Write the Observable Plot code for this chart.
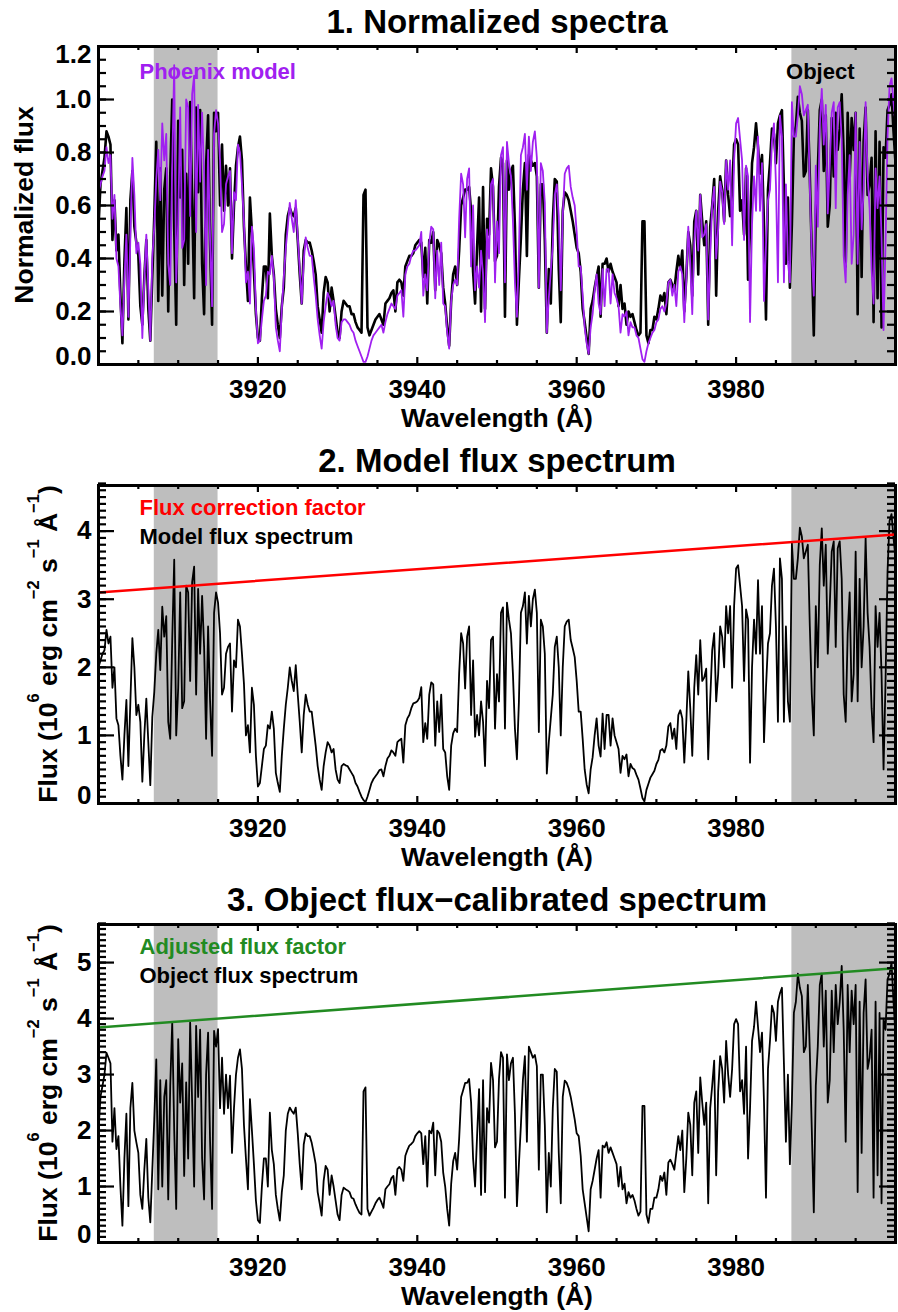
<!DOCTYPE html>
<html>
<head>
<meta charset="utf-8">
<script src="https://cdn.jsdelivr.net/npm/d3@7"></script>
<script src="https://cdn.jsdelivr.net/npm/@observablehq/plot@0.6"></script>
<style>
  html, body { margin: 0; padding: 0; background: #fff; }
  #chart { width: 898px; }
  #chart svg { display: block; }
</style>
</head>
<body>
<div id="chart"></div>
<script>
// ---------------- DATA ----------------
// wavelength grid: 3900 .. 4000 Å, one sample every 0.25 Å (401 samples)
const waveStart = 3900;
const waveStep = 0.25;

// Panel 2: model flux spectrum (10^6 erg cm^-2 s^-1 Å^-1)
const modelFlux = [
2.0,2.1,2.2,2.25, 2.55,2.35,2.45,1.7, 2.0,1.25,1.15,0.7, 0.35,1.0,1.52,0.55, 1.5,2.43,2.0,1.3,
1.45,1.2,0.32,1.0, 1.54,0.9,0.27,1.27, 1.64,2.2,2.55,1.96, 2.89,2.45,2.75,1.2, 0.95,2.4,3.58,1.0,
1.7,3.1,1.4,1.5, 3.2,3.1,1.8,3.25, 3.48,1.6,3.15,2.2, 3.05,2.3,0.95,2.6, 1.5,0.7,2.8,3.1,
2.95,2.5,1.6,1.7, 2.2,2.3,2.35,1.35, 2.1,2.0,2.7,2.6, 2.2,1.76,1.0,1.15, 0.75,1.7,1.45,0.7,
0.25,0.3,0.55,0.8, 0.85,1.15,1.1,1.35, 1.1,0.45,0.3,0.17, 0.7,1.1,1.45,1.7, 2.0,1.8,1.65,2.03,
1.6,1.2,0.75,1.3, 1.6,1.45,1.35,1.35, 1.1,0.85,0.55,0.35, 0.2,0.55,0.75,0.9, 0.85,0.75,0.8,0.5,
0.35,0.3,0.55,0.58, 0.56,0.55,0.5,0.45, 0.4,0.3,0.25,0.17, 0.1,0.05,0.02,0.1, 0.2,0.3,0.36,0.4,
0.44,0.49,0.5,0.4, 0.55,0.66,0.7,0.78, 0.75,0.7,0.9,0.93, 0.95,0.6,1.15,1.25, 1.3,1.4,1.47,1.48,
1.5,1.55,1.71,0.9, 1.18,0.95,1.6,1.78, 1.75,0.85,1.5,1.05, 1.6,0.8,0.75,0.4, 0.2,0.85,1.03,1.1,
1.05,1.91,2.5,2.35, 1.69,2.45,2.6,1.3, 2.1,0.98,1.3,1.0, 1.5,1.2,0.55,1.8, 1.4,2.4,2.45,1.1,
1.9,1.5,2.8,2.88, 1.1,2.95,2.7,2.5, 1.9,1.1,0.65,1.5, 2.8,2.9,3.1,2.35, 3.05,2.6,3.0,3.14,
2.8,1.05,2.7,2.6, 2.2,0.44,0.9,1.25, 1.6,2.3,2.45,2.0, 1.0,2.0,2.6,2.67, 2.7,2.4,2.28,2.15,
1.8,1.35,1.35,0.95, 0.5,0.28,0.15,0.5, 0.68,1.0,1.25,0.85, 0.69,1.32,0.8,1.3, 1.3,0.85,1.25,1.0,
0.9,0.8,0.45,0.7, 0.65,0.72,0.4,0.58, 0.52,0.5,0.42,0.35, 0.22,0.08,0.03,0.2, 0.29,0.38,0.43,0.48,
0.58,0.64,0.78,0.8, 0.75,0.85,1.13,1.18, 0.95,1.1,0.8,1.3, 1.37,1.25,0.6,1.2, 1.94,1.4,0.7,1.7,
2.18,1.6,2.4,1.8, 1.85,1.98,0.65,1.52, 2.25,2.5,1.5,1.9, 2.6,2.45,2.0,2.9, 2.5,2.9,1.7,2.9,
3.45,3.5,3.2,2.9, 1.8,2.85,2.7,0.6, 2.0,2.7,2.2,3.28, 2.2,2.9,0.9,1.7, 2.35,2.5,3.2,3.45,
2.6,1.2,3.6,3.3, 1.2,2.6,1.5,1.2, 3.82,3.3,3.3,3.6, 4.05,3.92,3.6,3.7, 3.8,2.6,1.6,1.0,
2.9,2.0,3.5,4.04, 3.2,3.8,2.2,2.9, 3.7,3.85,2.3,3.75, 3.85,3.3,1.6,1.2, 2.5,3.1,1.5,1.9,
3.7,1.5,3.3,2.0, 2.6,3.9,2.8,2.3, 1.4,0.9,2.9,2.3, 2.8,1.9,0.5,1.8, 3.4,4.15,4.25,3.9,
3.6
];

// Panel 3: object flux-calibrated spectrum (10^6 erg cm^-2 s^-1 Å^-1)
const objectFlux = [
2.0,2.6,2.8,3.0, 3.39,3.3,3.2,1.8, 2.4,1.67,1.9,1.0, 0.3,1.5,2.3,0.65, 2.4,2.85,2.0,1.79,
1.6,0.85,0.6,1.3, 1.85,0.8,0.36,1.3, 2.2,3.27,0.95,2.9, 1.0,2.6,2.9,0.77, 2.8,3.93,2.0,0.6,
3.63,2.5,3.2,1.19, 2.86,1.5,3.93,2.5, 1.0,3.87,2.6,3.8, 1.5,0.77,3.0,3.75, 1.8,0.6,3.78,3.5,
3.81,2.4,3.3,2.3, 3.0,2.4,2.98,1.6, 2.4,3.0,3.3,3.45, 3.1,2.1,1.5,0.95, 2.56,2.0,1.4,0.75,
0.4,0.35,1.0,1.5, 1.5,1.0,2.32,1.65, 1.4,0.85,0.6,0.39, 0.9,1.2,2.0,2.3, 2.41,2.35,2.3,2.41,
1.95,1.4,0.95,1.75, 1.95,1.9,1.9,1.78, 1.6,1.4,0.9,0.7, 0.48,1.1,1.37,1.3, 0.85,1.2,1.0,0.75,
0.5,0.4,0.85,0.98, 0.95,0.93,0.9,0.8, 0.78,0.68,0.6,0.53, 0.5,2.7,2.77,0.6, 0.48,0.55,0.62,0.7,
0.76,0.8,0.72,0.62, 0.95,1.0,1.04,1.15, 1.19,0.85,1.31,1.35, 1.3,1.1,1.55,1.65, 1.73,1.76,1.8,1.9,
1.95,1.99,1.95,1.4, 1.9,1.0,2.0,1.95, 2.14,1.2,2.0,1.95, 1.8,1.25,1.0,0.6, 0.3,1.05,1.45,1.6,
1.3,1.85,2.6,2.72, 2.85,2.85,2.92,2.5, 1.5,1.0,1.9,2.74, 0.85,2.9,0.9,2.4, 2.14,3.21,2.9,1.7,
1.8,2.92,3.4,3.3, 0.8,3.36,2.9,3.2, 3.3,2.3,0.65,1.4, 2.1,2.9,3.33,1.8, 3.5,3.4,3.3,3.35,
3.15,1.3,3.0,3.0, 2.1,0.54,1.6,1.0, 2.4,3.1,3.05,1.6, 0.7,2.6,2.89,2.85, 2.75,2.6,2.4,2.2,
1.95,1.9,1.55,0.95, 0.7,0.45,0.2,0.95, 1.1,1.3,1.5,1.65, 0.8,1.73,1.7,1.79, 1.6,1.7,1.6,1.5,
1.4,1.0,1.35,0.95, 1.05,0.7,0.9,0.8, 0.85,0.75,0.6,0.48, 0.55,2.44,2.44,0.5, 0.35,0.6,0.6,0.8,
0.8,0.95,1.19,1.1, 1.25,0.85,1.43,1.48, 1.4,1.3,1.6,1.9, 1.65,2.0,0.9,1.5, 2.32,2.1,1.2,2.5,
2.7,1.6,2.95,2.5, 2.1,2.5,0.7,2.4, 2.8,3.25,1.2,2.7, 3.33,3.1,2.5,3.6, 3.0,2.6,3.1,3.9,
3.99,3.9,2.7,2.9, 2.3,3.5,1.5,2.4, 3.6,3.85,4.3,3.85, 3.4,3.75,2.5,0.8, 3.1,3.6,4.23,4.1,
3.6,4.3,4.45,4.55, 3.2,1.8,3.0,1.4, 2.5,4.1,4.3,4.8, 4.55,4.4,3.4,3.5, 4.6,3.4,2.0,0.54,
2.8,3.5,4.6,4.8, 3.5,4.5,2.5,2.9, 4.5,3.4,4.6,3.9, 4.3,4.94,3.8,1.8, 4.6,3.4,4.5,3.9,
4.6,0.9,4.3,1.6, 4.1,4.7,3.1,3.3, 3.8,0.8,4.3,1.2, 4.1,0.7,4.0,3.8, 4.7,4.8,5.0,4.3,
3.7
];

// Panel 1: Phoenix model, normalized flux
const normModel = [
0.65,0.68,0.71,0.73, 0.82,0.76,0.79,0.55, 0.64,0.40,0.37,0.22, 0.11,0.32,0.49,0.18, 0.48,0.78,0.64,0.42,
0.46,0.38,0.10,0.32, 0.49,0.29,0.09,0.40, 0.52,0.70,0.81,0.62, 0.91,0.77,0.87,0.38, 0.30,0.75,1.13,0.31,
0.53,0.97,0.44,0.47, 1.00,0.97,0.56,1.02, 1.09,0.50,0.98,0.69, 0.95,0.72,0.30,0.81, 0.47,0.22,0.87,0.96,
0.91,0.77,0.50,0.53, 0.68,0.71,0.73,0.42, 0.65,0.62,0.83,0.80, 0.68,0.54,0.31,0.35, 0.23,0.52,0.44,0.21,
0.08,0.09,0.17,0.24, 0.26,0.35,0.34,0.41, 0.33,0.14,0.09,0.05, 0.21,0.33,0.44,0.52, 0.61,0.55,0.50,0.62,
0.48,0.36,0.23,0.39, 0.48,0.44,0.41,0.41, 0.33,0.26,0.17,0.11, 0.06,0.16,0.22,0.27, 0.25,0.22,0.24,0.15,
0.10,0.09,0.16,0.17, 0.17,0.16,0.15,0.13, 0.12,0.09,0.07,0.05, 0.03,0.01,0.01,0.03, 0.06,0.09,0.11,0.12,
0.13,0.14,0.15,0.12, 0.16,0.19,0.21,0.23, 0.22,0.21,0.26,0.27, 0.28,0.18,0.34,0.37, 0.38,0.41,0.43,0.43,
0.44,0.45,0.50,0.26, 0.34,0.28,0.46,0.52, 0.51,0.25,0.43,0.30, 0.46,0.23,0.22,0.12, 0.06,0.24,0.30,0.32,
0.30,0.55,0.72,0.68, 0.48,0.70,0.74,0.37, 0.60,0.28,0.37,0.29, 0.43,0.34,0.16,0.51, 0.40,0.68,0.70,0.31,
0.54,0.42,0.79,0.82, 0.31,0.84,0.76,0.71, 0.54,0.31,0.18,0.42, 0.79,0.82,0.87,0.66, 0.86,0.73,0.84,0.88,
0.78,0.29,0.76,0.73, 0.61,0.12,0.25,0.35, 0.45,0.64,0.68,0.56, 0.28,0.56,0.72,0.74, 0.75,0.67,0.63,0.60,
0.50,0.37,0.37,0.26, 0.14,0.08,0.04,0.14, 0.19,0.28,0.34,0.23, 0.19,0.36,0.22,0.36, 0.36,0.23,0.34,0.27,
0.25,0.22,0.12,0.19, 0.18,0.20,0.11,0.16, 0.14,0.14,0.11,0.10, 0.06,0.02,0.01,0.05, 0.08,0.10,0.12,0.13,
0.16,0.17,0.21,0.22, 0.20,0.23,0.31,0.32, 0.26,0.30,0.22,0.35, 0.37,0.34,0.16,0.32, 0.52,0.38,0.19,0.46,
0.58,0.43,0.64,0.48, 0.49,0.53,0.17,0.41, 0.60,0.67,0.40,0.51, 0.69,0.65,0.53,0.77, 0.66,0.77,0.45,0.77,
0.91,0.93,0.85,0.77, 0.47,0.75,0.71,0.16, 0.53,0.71,0.58,0.86, 0.58,0.76,0.24,0.45, 0.62,0.66,0.84,0.91,
0.68,0.31,0.94,0.86, 0.31,0.68,0.39,0.31, 0.99,0.86,0.86,0.94, 1.05,1.02,0.94,0.96, 0.98,0.67,0.41,0.26,
0.75,0.52,0.90,1.04, 0.83,0.98,0.57,0.75, 0.95,0.99,0.59,0.97, 0.99,0.85,0.41,0.31, 0.64,0.79,0.38,0.49,
0.95,0.38,0.84,0.51, 0.66,0.99,0.71,0.59, 0.36,0.23,0.74,0.59, 0.71,0.48,0.13,0.46, 0.86,1.05,1.08,0.99,
0.91
];

// Panel 1: object, normalized flux
const normObject = [
0.52,0.68,0.73,0.78, 0.88,0.86,0.83,0.47, 0.62,0.43,0.49,0.26, 0.08,0.39,0.59,0.17, 0.62,0.73,0.52,0.46,
0.41,0.22,0.15,0.33, 0.47,0.21,0.09,0.33, 0.56,0.84,0.24,0.74, 0.26,0.66,0.74,0.20, 0.71,1.00,0.51,0.15,
0.92,0.63,0.81,0.30, 0.72,0.38,0.99,0.63, 0.25,0.97,0.65,0.96, 0.38,0.19,0.75,0.94, 0.45,0.15,0.95,0.88,
0.95,0.60,0.83,0.58, 0.75,0.60,0.74,0.40, 0.60,0.75,0.82,0.86, 0.77,0.52,0.37,0.24, 0.63,0.50,0.35,0.19,
0.10,0.09,0.25,0.37, 0.37,0.25,0.57,0.41, 0.34,0.21,0.15,0.10, 0.22,0.29,0.49,0.56, 0.59,0.57,0.56,0.59,
0.47,0.34,0.23,0.43, 0.47,0.46,0.46,0.43, 0.39,0.34,0.22,0.17, 0.12,0.27,0.33,0.31, 0.20,0.29,0.24,0.18,
0.12,0.10,0.20,0.24, 0.23,0.22,0.22,0.19, 0.19,0.16,0.14,0.13, 0.12,0.64,0.66,0.14, 0.11,0.13,0.15,0.17,
0.18,0.19,0.17,0.15, 0.23,0.24,0.25,0.27, 0.28,0.20,0.31,0.32, 0.31,0.26,0.37,0.39, 0.41,0.41,0.42,0.45,
0.46,0.47,0.46,0.33, 0.44,0.23,0.47,0.46, 0.50,0.28,0.47,0.45, 0.42,0.29,0.23,0.14, 0.07,0.24,0.34,0.37,
0.30,0.43,0.60,0.63, 0.66,0.66,0.67,0.58, 0.35,0.23,0.44,0.63, 0.20,0.67,0.21,0.55, 0.49,0.74,0.67,0.39,
0.41,0.67,0.78,0.76, 0.18,0.77,0.66,0.73, 0.75,0.52,0.15,0.32, 0.48,0.66,0.76,0.41, 0.79,0.77,0.75,0.76,
0.71,0.29,0.68,0.68, 0.47,0.12,0.36,0.23, 0.54,0.70,0.69,0.36, 0.16,0.58,0.65,0.64, 0.62,0.58,0.54,0.49,
0.44,0.42,0.35,0.21, 0.16,0.10,0.04,0.21, 0.24,0.29,0.33,0.37, 0.18,0.38,0.38,0.40, 0.35,0.38,0.35,0.33,
0.31,0.22,0.30,0.21, 0.23,0.15,0.20,0.18, 0.19,0.16,0.13,0.11, 0.12,0.54,0.54,0.11, 0.08,0.13,0.13,0.18,
0.17,0.21,0.26,0.24, 0.27,0.19,0.31,0.32, 0.30,0.28,0.35,0.41, 0.36,0.43,0.20,0.33, 0.50,0.45,0.26,0.54,
0.58,0.34,0.64,0.54, 0.45,0.54,0.15,0.52, 0.60,0.70,0.26,0.58, 0.71,0.66,0.54,0.77, 0.64,0.56,0.66,0.83,
0.85,0.83,0.58,0.62, 0.49,0.74,0.32,0.51, 0.76,0.82,0.91,0.82, 0.72,0.79,0.53,0.17, 0.66,0.76,0.89,0.87,
0.76,0.91,0.94,0.96, 0.67,0.38,0.63,0.29, 0.53,0.86,0.90,1.01, 0.95,0.92,0.71,0.73, 0.96,0.71,0.42,0.11,
0.58,0.73,0.96,1.00, 0.73,0.94,0.52,0.60, 0.93,0.71,0.95,0.81, 0.89,1.02,0.79,0.37, 0.95,0.70,0.93,0.81,
0.95,0.19,0.89,0.33, 0.84,0.97,0.64,0.68, 0.78,0.16,0.88,0.25, 0.84,0.14,0.82,0.78, 0.96,0.98,1.02,0.88,
0.76
];

// Linear flux factors (end points at 3900 and 4000 Å)
const factorWave = [3900, 4000];
const correctionFactor = [3.10, 3.95];
const adjustedFactor = [3.84, 4.90];

// Grey shaded wavelength windows
const bandStart = [3907, 3987];
const bandEnd = [3915, 4000];

// Axes / ticks / texts
const xDomain = [3900, 4000];
const xTickLabels = [3920, 3940, 3960, 3980];
const xMinorTicks = [3905, 3910, 3915, 3925, 3930, 3935, 3945, 3950, 3955, 3965, 3970, 3975, 3985, 3990, 3995];
const yTicks1 = [0, 0.2, 0.4, 0.6, 0.8, 1.0, 1.2];
const yTicks2 = [0, 1, 2, 3, 4];
const yTicks3 = [0, 1, 2, 3, 4, 5];
const panelTitles = ["1. Normalized spectra", "2. Model flux spectrum", "3. Object flux\u2212calibrated spectrum"];
const xTitle = "Wavelength (\u00C5)";
const legend1 = ["Phoenix model", "Object"];
const legend2 = ["Flux correction factor", "Model flux spectrum"];
const legend3 = ["Adjusted flux factor", "Object flux spectrum"];

// ---------------- BUILD ----------------
const FONT = "'Liberation Sans', Arial, Helvetica, sans-serif";
const PURPLE = "#a020f0", RED = "#ff0000", GREEN = "#228b22", GREY = "#bebebe";
const W = 898, ML = 98, MR = 3;

[modelFlux, objectFlux, normModel, normObject].forEach((a, k) => {
  if (a.length !== 401) throw new Error("array " + k + " has length " + a.length);
});

const rows = modelFlux.map((m, i) => ({
  w: waveStart + i * waveStep,
  m, o: objectFlux[i], pm: normModel[i], po: normObject[i]
}));
const factorRows = factorWave.map((w, i) => ({w, c: correctionFactor[i], a: adjustedFactor[i]}));
const bands = bandStart.map((s, i) => ({x1: s, x2: bandEnd[i]}));

function panel(cfg) {
  const frameW = W - ML - MR;
  const frameH = cfg.height - cfg.marginTop - cfg.marginBottom;
  const [y0, y1] = cfg.yDomain;
  const yMinor = d3.range(0, Math.round(y1 / cfg.minorStep) + 1).map(k => +(k * cfg.minorStep).toFixed(3));
  const labelMid = cfg.yTicks.filter(d => d !== y0 && d !== y1);
  const labelLow = cfg.yTicks.filter(d => d === y0);
  const labelTop = cfg.yTicks.filter(d => d === y1);
  const yLab = (vals, dy) => Plot.text(vals, {
    y: d => d, frameAnchor: "left", dx: -7, dy, textAnchor: "end", lineAnchor: "middle",
    text: d => cfg.fmt(d), fontSize: 26, fontWeight: "bold", fill: "black"
  });
  const tickW = 2.2;
  const marks = [
    Plot.rect(bands, {x1: "x1", x2: "x2", fill: GREY}),
    ...cfg.lines,
    Plot.tickX(xTickLabels, {x: d => d, insetTop: frameH - 7, stroke: "black", strokeWidth: tickW}),
    Plot.tickX(xTickLabels, {x: d => d, insetBottom: frameH - 7, stroke: "black", strokeWidth: tickW}),
    Plot.tickX(xMinorTicks, {x: d => d, insetTop: frameH - 4, stroke: "black", strokeWidth: tickW}),
    Plot.tickX(xMinorTicks, {x: d => d, insetBottom: frameH - 4, stroke: "black", strokeWidth: tickW}),
    Plot.tickY(yMinor, {y: d => d, insetRight: frameW - 8, stroke: "black", strokeWidth: tickW}),
    Plot.tickY(yMinor, {y: d => d, insetLeft: frameW - 8, stroke: "black", strokeWidth: tickW}),
    Plot.tickY(cfg.yTicks, {y: d => d, insetRight: frameW - 16, stroke: "black", strokeWidth: tickW}),
    Plot.tickY(cfg.yTicks, {y: d => d, insetLeft: frameW - 16, stroke: "black", strokeWidth: tickW}),
    Plot.frame({stroke: "black", strokeWidth: 3}),
    yLab(labelMid, 0),
    yLab(labelLow, -7.5),
    yLab(labelTop, 8),
    Plot.text(xTickLabels, {x: d => d, frameAnchor: "bottom", dy: 25, lineAnchor: "middle",
      text: d => String(d), fontSize: 26, fontWeight: "bold", fill: "black"}),
    Plot.text([xTitle], {frameAnchor: "bottom", dy: 54, lineAnchor: "middle", text: d => d,
      fontSize: 26.5, fontWeight: "bold", fill: "black"}),
    Plot.text([cfg.title], {frameAnchor: "top", dy: -24, lineAnchor: "middle", text: d => d,
      fontSize: 33, fontWeight: "bold", fill: "black"}),
    ...cfg.legends
  ];
  const svg = Plot.plot({
    width: W, height: cfg.height,
    marginLeft: ML, marginRight: MR, marginTop: cfg.marginTop, marginBottom: cfg.marginBottom,
    x: {domain: xDomain, axis: null},
    y: {domain: cfg.yDomain, axis: null},
    style: {fontFamily: FONT, fontWeight: "bold", background: "white", overflow: "visible"},
    marks
  });
  // rotated y-axis title (with superscripts where needed)
  const xs = svg.scale("x"), ys = svg.scale("y");
  const left = xs.apply(xDomain[0]);
  const midY = (ys.apply(y0) + ys.apply(y1)) / 2;
  const t = d3.select(svg).append("text")
    .attr("transform", `translate(${left - cfg.yTitleOffset},${midY}) rotate(-90)`)
    .attr("text-anchor", "middle")
    .attr("font-family", FONT).attr("font-weight", "bold")
    .attr("font-size", 26.5).attr("fill", "black");
  let raised = false;
  cfg.yTitleParts.forEach(([txt, sup]) => {
    const s = t.append("tspan").text(txt);
    if (sup) { s.attr("font-size", 16.5).attr("dy", -18); raised = true; }
    else if (raised) { s.attr("dy", 18); raised = false; }
  });
  return svg;
}

const legendText = (txt, color, dy, right) => Plot.text([txt], {
  frameAnchor: right ? "top-right" : "top-left", dx: right ? -41 : 41, dy,
  lineAnchor: "top", textAnchor: right ? "end" : "start",
  text: d => d, fill: color, fontSize: 22, fontWeight: "bold"
});

const fluxTitle = [["Flux (10"], ["6", true], [" erg cm"], ["\u22122", true], [" s"], ["\u22121", true], [" \u00C5"], ["\u22121", true], [")"]];

const p1 = panel({
  title: panelTitles[0], height: 440, marginTop: 46, marginBottom: 76,
  yDomain: [0, 1.2], yTicks: yTicks1, minorStep: 0.05, fmt: d3.format(".1f"),
  yTitleOffset: 64.7, yTitleParts: [["Normalized flux"]],
  lines: [
    Plot.line(rows, {x: "w", y: "po", stroke: "black", strokeWidth: 2.6}),
    Plot.line(rows, {x: "w", y: "pm", stroke: PURPLE, strokeWidth: 1.8})
  ],
  legends: [legendText(legend1[0], PURPLE, 17, false), legendText(legend1[1], "black", 17, true)]
});

const p2 = panel({
  title: panelTitles[1], height: 430, marginTop: 45, marginBottom: 67,
  yDomain: [0, 4.67], yTicks: yTicks2, minorStep: 0.1, fmt: d3.format("d"),
  yTitleOffset: 41.3, yTitleParts: fluxTitle,
  lines: [
    Plot.line(rows, {x: "w", y: "m", stroke: "black", strokeWidth: 1.8}),
    Plot.line(factorRows, {x: "w", y: "c", stroke: RED, strokeWidth: 2.5})
  ],
  legends: [legendText(legend2[0], RED, 13.5, false), legendText(legend2[1], "black", 43.3, false)]
});

const p3 = panel({
  title: panelTitles[2], height: 442, marginTop: 54, marginBottom: 70,
  yDomain: [0, 5.68], yTicks: yTicks3, minorStep: 0.1, fmt: d3.format("d"),
  yTitleOffset: 41.3, yTitleParts: fluxTitle,
  lines: [
    Plot.line(rows, {x: "w", y: "o", stroke: "black", strokeWidth: 1.8}),
    Plot.line(factorRows, {x: "w", y: "a", stroke: GREEN, strokeWidth: 2.5})
  ],
  legends: [legendText(legend3[0], GREEN, 14.3, false), legendText(legend3[1], "black", 43.3, false)]
});

const chart = document.getElementById("chart");
chart.append(p1, p2, p3);
</script>
</body>
</html>
